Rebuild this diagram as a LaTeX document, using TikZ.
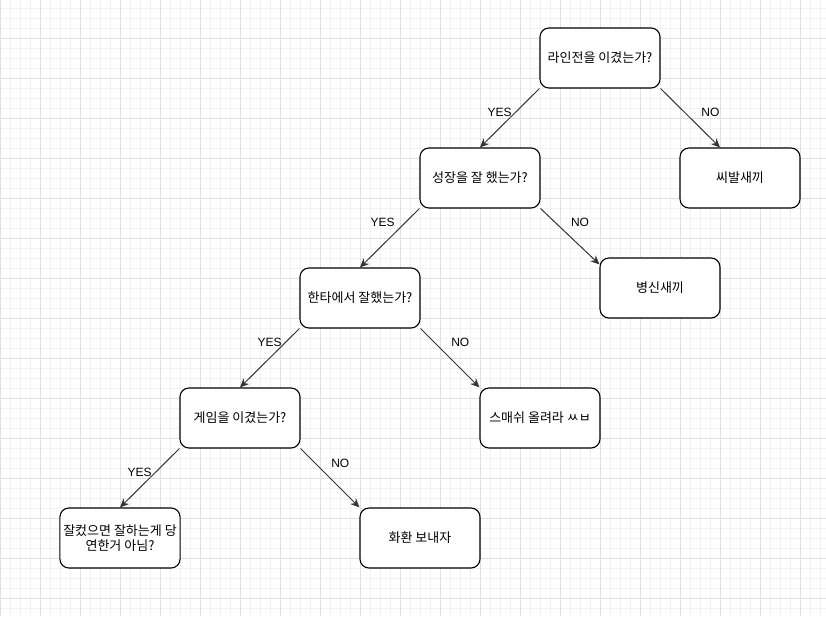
\documentclass[tikz,border=0pt]{standalone}
\usepackage{fontspec}
\setmainfont{Liberation Sans}
\newfontfamily\kr{Noto Sans CJK KR}
\usetikzlibrary{arrows.meta}
\tikzset{>={Stealth[length=9pt,width=8pt]}}
\tikzset{
    question/.style = {rectangle, draw, rounded corners=9pt, fill=white, line width=1.1pt,
                        minimum width=120pt, minimum height=60pt, align=center,
                        font={\kr\fontsize{13pt}{14.5pt}\selectfont}},
    verdict/.style = {question},
    branch/.style = {->, draw=black!80, line width=1pt},
    lbl/.style = {inner sep=0pt, font={\fontsize{12pt}{14.4pt}\selectfont}},
    minorgrid/.style = {draw=black!5, line width=1pt},
    majorgrid/.style = {draw=black!12, line width=1pt}
}

\begin{document}
\begin{tikzpicture}[x=1pt, y=-1pt]
			\useasboundingbox (0,0) rectangle (826,616);
			% background grid
			\foreach \gx in {0,10,...,820} \draw[minorgrid] (\gx,0) -- (\gx,616);
			\foreach \gy in {8,18,...,608} \draw[minorgrid] (0,\gy) -- (826,\gy);
			\foreach \gx in {0,40,...,800} \draw[majorgrid] (\gx,0) -- (\gx,616);
			\foreach \gy in {38,78,...,598} \draw[majorgrid] (0,\gy) -- (826,\gy);
			% questions
			\node (lane) [question] at (600,58) {라인전을 이겼는가?};
			\node (grow) [question] at (480,178) {성장을 잘 했는가?};
			\node (fight) [question] at (360,298) {한타에서 잘했는가?};
			\node (game) [question] at (240,418) {게임을 이겼는가?};
			% answers
			\node (ssibal) [verdict] at (740,178) {씨발새끼};
			\node (byung) [verdict] at (660,288) {병신새끼};
			\node (smash) [verdict] at (540,418) {스매쉬 올려라 ㅆㅂ};
			\node (wreath) [verdict] at (420,538) {화환 보내자};
			\node (ggwp) [verdict] at (120,538) {잘컸으면 잘하는게 당\\연한거 아님?};
			% branches
			\draw [branch] (lane.south west) to node[lbl, pos=0.4, xshift=-16pt] {YES} (grow.north);
			\draw [branch] (lane.south east) to node[lbl, pos=0.4, xshift=26pt] {NO} ([xshift=-20pt]ssibal.north);
			\draw [branch] (grow.south west) to node[lbl, pos=0.233, xshift=-23pt] {YES} (fight.north);
			\draw [branch] (grow.south east) to node[lbl, pos=0.246, xshift=25pt] {NO} ([yshift=-7pt]byung.north west);
			\draw [branch] (fight.south west) to node[lbl, pos=0.233, xshift=-16pt] {YES} (game.north);
			\draw [branch] (fight.south east) to node[lbl, pos=0.233, xshift=26pt] {NO} (smash.north west);
			\draw [branch] (game.south west) to node[lbl, pos=0.4, xshift=-16pt] {YES} (ggwp.north);
			\draw [branch] (game.south east) to node[lbl, pos=0.25, xshift=25pt] {NO} (wreath.north west);
		\end{tikzpicture}
\end{document}
